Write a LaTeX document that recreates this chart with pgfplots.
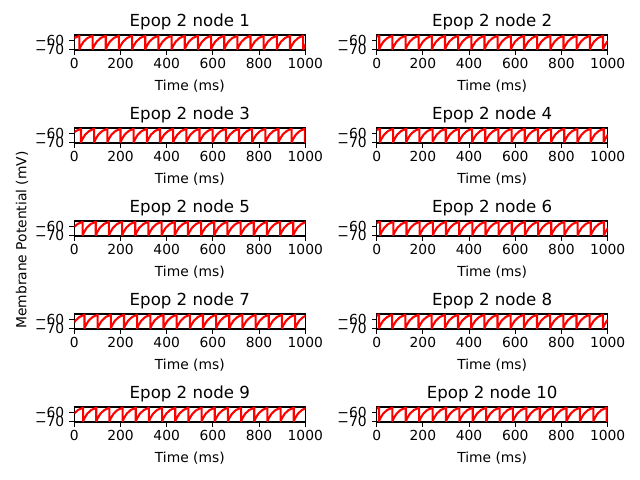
\documentclass[border=0pt]{standalone}
\usepackage{fontspec}
\setmainfont{DejaVu Sans}
\usepackage{pgfplots}
\pgfplotsset{compat=1.18}
\pgfplotsset{
 ep/.style={
  width=166.3bp, height=10.8bp, scale only axis, anchor=south west,
  xmin=0, xmax=1000, ymin=-70.75, ymax=-54.25,
  xtick={0,200,400,600,800,1000}, xticklabels={0,200,400,600,800,1000},
  ytick={-70,-60}, yticklabels={−70,−60},
  minor tick num=0,
  tick align=outside, tick pos=left, major tick length=3.5bp,
  every tick/.style={black, line width=0.8bp},
  axis line style={line width=0.8bp},
  ticklabel style={font=\fontsize{10}{12}\selectfont, inner sep=0pt},
  xticklabel style={anchor=base, yshift=-9.5bp},
  yticklabel style={anchor=east, xshift=-3.5bp},
  title style={font=\fontsize{12}{14}\selectfont, at={(axis description cs:0.5,1)}, anchor=base, inner sep=0pt},
  xlabel={Time (ms)},
  xlabel style={font=\fontsize{10}{12}\selectfont, at={(axis description cs:0.5,0)}, anchor=base, yshift=-29bp, inner sep=0pt},
 },
 tr/.style={red, line width=1.5bp, line join=round, mark=none},
}
\begin{document}
\begin{tikzpicture}
\path[use as bounding box, fill=white] (0,0) rectangle (460.8bp,345.6bp);
\node[rotate=90, font=\fontsize{10}{12}\selectfont] at (15.8bp,172.8bp) {Membrane Potential (mV)};

% node 1
\begin{axis}[ep, at={(53.5bp,309.6bp)}, title={Epop 2 node 1}]
\addplot[tr] coordinates {(0,-57.6)
(22,-55)(22,-70)(28,-66.6)(40,-61.6)(57,-57.6)
(79,-55)(79,-70)(85,-66.6)(97,-61.6)(114,-57.6)
(136,-55)(136,-70)(142,-66.6)(154,-61.6)(171,-57.6)
(193,-55)(193,-70)(199,-66.6)(211,-61.6)(228,-57.6)
(250,-55)(250,-70)(256,-66.6)(268,-61.6)(285,-57.6)
(307,-55)(307,-70)(313,-66.6)(325,-61.6)(342,-57.6)
(364,-55)(364,-70)(370,-66.6)(382,-61.6)(399,-57.6)
(421,-55)(421,-70)(427,-66.6)(439,-61.6)(456,-57.6)
(478,-55)(478,-70)(484,-66.6)(496,-61.6)(513,-57.6)
(535,-55)(535,-70)(541,-66.6)(553,-61.6)(570,-57.6)
(592,-55)(592,-70)(598,-66.6)(610,-61.6)(627,-57.6)
(649,-55)(649,-70)(655,-66.6)(667,-61.6)(684,-57.6)
(706,-55)(706,-70)(712,-66.6)(724,-61.6)(741,-57.6)
(763,-55)(763,-70)(769,-66.6)(781,-61.6)(798,-57.6)
(820,-55)(820,-70)(826,-66.6)(838,-61.6)(855,-57.6)
(877,-55)(877,-70)(883,-66.6)(895,-61.6)(912,-57.6)
(934,-55)(934,-70)(940,-66.6)(952,-61.6)(969,-57.6)
(991,-55)(991,-70)(997,-66.6)(1009,-61.6)};
\end{axis}

% node 2
\begin{axis}[ep, at={(271.2bp,309.6bp)}, title={Epop 2 node 2}]
\addplot[tr] coordinates {(0,-56.0)
(11,-55)(11,-70)(17,-66.6)(29,-61.6)(46,-57.6)
(68,-55)(68,-70)(74,-66.6)(86,-61.6)(103,-57.6)
(125,-55)(125,-70)(131,-66.6)(143,-61.6)(160,-57.6)
(182,-55)(182,-70)(188,-66.6)(200,-61.6)(217,-57.6)
(239,-55)(239,-70)(245,-66.6)(257,-61.6)(274,-57.6)
(296,-55)(296,-70)(302,-66.6)(314,-61.6)(331,-57.6)
(353,-55)(353,-70)(359,-66.6)(371,-61.6)(388,-57.6)
(410,-55)(410,-70)(416,-66.6)(428,-61.6)(445,-57.6)
(467,-55)(467,-70)(473,-66.6)(485,-61.6)(502,-57.6)
(524,-55)(524,-70)(530,-66.6)(542,-61.6)(559,-57.6)
(581,-55)(581,-70)(587,-66.6)(599,-61.6)(616,-57.6)
(638,-55)(638,-70)(644,-66.6)(656,-61.6)(673,-57.6)
(695,-55)(695,-70)(701,-66.6)(713,-61.6)(730,-57.6)
(752,-55)(752,-70)(758,-66.6)(770,-61.6)(787,-57.6)
(809,-55)(809,-70)(815,-66.6)(827,-61.6)(844,-57.6)
(866,-55)(866,-70)(872,-66.6)(884,-61.6)(901,-57.6)
(923,-55)(923,-70)(929,-66.6)(941,-61.6)(958,-57.6)
(980,-55)(980,-70)(986,-66.6)(998,-61.6)(1015,-57.6)};
\end{axis}

% node 3
\begin{axis}[ep, at={(53.5bp,242.64bp)}, title={Epop 2 node 3}]
\addplot[tr] coordinates {(0,-58.9)(7,-57.6)
(29,-55)(29,-70)(35,-66.6)(47,-61.6)(64,-57.6)
(86,-55)(86,-70)(92,-66.6)(104,-61.6)(121,-57.6)
(143,-55)(143,-70)(149,-66.6)(161,-61.6)(178,-57.6)
(200,-55)(200,-70)(206,-66.6)(218,-61.6)(235,-57.6)
(257,-55)(257,-70)(263,-66.6)(275,-61.6)(292,-57.6)
(314,-55)(314,-70)(320,-66.6)(332,-61.6)(349,-57.6)
(371,-55)(371,-70)(377,-66.6)(389,-61.6)(406,-57.6)
(428,-55)(428,-70)(434,-66.6)(446,-61.6)(463,-57.6)
(485,-55)(485,-70)(491,-66.6)(503,-61.6)(520,-57.6)
(542,-55)(542,-70)(548,-66.6)(560,-61.6)(577,-57.6)
(599,-55)(599,-70)(605,-66.6)(617,-61.6)(634,-57.6)
(656,-55)(656,-70)(662,-66.6)(674,-61.6)(691,-57.6)
(713,-55)(713,-70)(719,-66.6)(731,-61.6)(748,-57.6)
(770,-55)(770,-70)(776,-66.6)(788,-61.6)(805,-57.6)
(827,-55)(827,-70)(833,-66.6)(845,-61.6)(862,-57.6)
(884,-55)(884,-70)(890,-66.6)(902,-61.6)(919,-57.6)
(941,-55)(941,-70)(947,-66.6)(959,-61.6)(976,-57.6)
(998,-55)(998,-70)(1004,-66.6)};
\end{axis}

% node 4
\begin{axis}[ep, at={(271.2bp,242.64bp)}, title={Epop 2 node 4}]
\addplot[tr] coordinates {(0,-56.4)
(14,-55)(14,-70)(20,-66.6)(32,-61.6)(49,-57.6)
(71,-55)(71,-70)(77,-66.6)(89,-61.6)(106,-57.6)
(128,-55)(128,-70)(134,-66.6)(146,-61.6)(163,-57.6)
(185,-55)(185,-70)(191,-66.6)(203,-61.6)(220,-57.6)
(242,-55)(242,-70)(248,-66.6)(260,-61.6)(277,-57.6)
(299,-55)(299,-70)(305,-66.6)(317,-61.6)(334,-57.6)
(356,-55)(356,-70)(362,-66.6)(374,-61.6)(391,-57.6)
(413,-55)(413,-70)(419,-66.6)(431,-61.6)(448,-57.6)
(470,-55)(470,-70)(476,-66.6)(488,-61.6)(505,-57.6)
(527,-55)(527,-70)(533,-66.6)(545,-61.6)(562,-57.6)
(584,-55)(584,-70)(590,-66.6)(602,-61.6)(619,-57.6)
(641,-55)(641,-70)(647,-66.6)(659,-61.6)(676,-57.6)
(698,-55)(698,-70)(704,-66.6)(716,-61.6)(733,-57.6)
(755,-55)(755,-70)(761,-66.6)(773,-61.6)(790,-57.6)
(812,-55)(812,-70)(818,-66.6)(830,-61.6)(847,-57.6)
(869,-55)(869,-70)(875,-66.6)(887,-61.6)(904,-57.6)
(926,-55)(926,-70)(932,-66.6)(944,-61.6)(961,-57.6)
(983,-55)(983,-70)(989,-66.6)(1001,-61.6)};
\end{axis}

% node 5
\begin{axis}[ep, at={(53.5bp,175.68bp)}, title={Epop 2 node 5}]
\addplot[tr] coordinates {(0,-60.7)(14,-57.6)
(36,-55)(36,-70)(42,-66.6)(54,-61.6)(71,-57.6)
(93,-55)(93,-70)(99,-66.6)(111,-61.6)(128,-57.6)
(150,-55)(150,-70)(156,-66.6)(168,-61.6)(185,-57.6)
(207,-55)(207,-70)(213,-66.6)(225,-61.6)(242,-57.6)
(264,-55)(264,-70)(270,-66.6)(282,-61.6)(299,-57.6)
(321,-55)(321,-70)(327,-66.6)(339,-61.6)(356,-57.6)
(378,-55)(378,-70)(384,-66.6)(396,-61.6)(413,-57.6)
(435,-55)(435,-70)(441,-66.6)(453,-61.6)(470,-57.6)
(492,-55)(492,-70)(498,-66.6)(510,-61.6)(527,-57.6)
(549,-55)(549,-70)(555,-66.6)(567,-61.6)(584,-57.6)
(606,-55)(606,-70)(612,-66.6)(624,-61.6)(641,-57.6)
(663,-55)(663,-70)(669,-66.6)(681,-61.6)(698,-57.6)
(720,-55)(720,-70)(726,-66.6)(738,-61.6)(755,-57.6)
(777,-55)(777,-70)(783,-66.6)(795,-61.6)(812,-57.6)
(834,-55)(834,-70)(840,-66.6)(852,-61.6)(869,-57.6)
(891,-55)(891,-70)(897,-66.6)(909,-61.6)(926,-57.6)
(948,-55)(948,-70)(954,-66.6)(966,-61.6)(983,-57.6)
(1005,-55)};
\end{axis}

% node 6
\begin{axis}[ep, at={(271.2bp,175.68bp)}, title={Epop 2 node 6}]
\addplot[tr] coordinates {(0,-56.5)
(15,-55)(15,-70)(21,-66.6)(33,-61.6)(50,-57.6)
(72,-55)(72,-70)(78,-66.6)(90,-61.6)(107,-57.6)
(129,-55)(129,-70)(135,-66.6)(147,-61.6)(164,-57.6)
(186,-55)(186,-70)(192,-66.6)(204,-61.6)(221,-57.6)
(243,-55)(243,-70)(249,-66.6)(261,-61.6)(278,-57.6)
(300,-55)(300,-70)(306,-66.6)(318,-61.6)(335,-57.6)
(357,-55)(357,-70)(363,-66.6)(375,-61.6)(392,-57.6)
(414,-55)(414,-70)(420,-66.6)(432,-61.6)(449,-57.6)
(471,-55)(471,-70)(477,-66.6)(489,-61.6)(506,-57.6)
(528,-55)(528,-70)(534,-66.6)(546,-61.6)(563,-57.6)
(585,-55)(585,-70)(591,-66.6)(603,-61.6)(620,-57.6)
(642,-55)(642,-70)(648,-66.6)(660,-61.6)(677,-57.6)
(699,-55)(699,-70)(705,-66.6)(717,-61.6)(734,-57.6)
(756,-55)(756,-70)(762,-66.6)(774,-61.6)(791,-57.6)
(813,-55)(813,-70)(819,-66.6)(831,-61.6)(848,-57.6)
(870,-55)(870,-70)(876,-66.6)(888,-61.6)(905,-57.6)
(927,-55)(927,-70)(933,-66.6)(945,-61.6)(962,-57.6)
(984,-55)(984,-70)(990,-66.6)(1002,-61.6)};
\end{axis}

% node 7
\begin{axis}[ep, at={(53.5bp,108.72bp)}, title={Epop 2 node 7}]
\addplot[tr] coordinates {(0,-63.4)(5,-61.6)(22,-57.6)
(44,-55)(44,-70)(50,-66.6)(62,-61.6)(79,-57.6)
(101,-55)(101,-70)(107,-66.6)(119,-61.6)(136,-57.6)
(158,-55)(158,-70)(164,-66.6)(176,-61.6)(193,-57.6)
(215,-55)(215,-70)(221,-66.6)(233,-61.6)(250,-57.6)
(272,-55)(272,-70)(278,-66.6)(290,-61.6)(307,-57.6)
(329,-55)(329,-70)(335,-66.6)(347,-61.6)(364,-57.6)
(386,-55)(386,-70)(392,-66.6)(404,-61.6)(421,-57.6)
(443,-55)(443,-70)(449,-66.6)(461,-61.6)(478,-57.6)
(500,-55)(500,-70)(506,-66.6)(518,-61.6)(535,-57.6)
(557,-55)(557,-70)(563,-66.6)(575,-61.6)(592,-57.6)
(614,-55)(614,-70)(620,-66.6)(632,-61.6)(649,-57.6)
(671,-55)(671,-70)(677,-66.6)(689,-61.6)(706,-57.6)
(728,-55)(728,-70)(734,-66.6)(746,-61.6)(763,-57.6)
(785,-55)(785,-70)(791,-66.6)(803,-61.6)(820,-57.6)
(842,-55)(842,-70)(848,-66.6)(860,-61.6)(877,-57.6)
(899,-55)(899,-70)(905,-66.6)(917,-61.6)(934,-57.6)
(956,-55)(956,-70)(962,-66.6)(974,-61.6)(991,-57.6)
(1013,-55)};
\end{axis}

% node 8
\begin{axis}[ep, at={(271.2bp,108.72bp)}, title={Epop 2 node 8}]
\addplot[tr] coordinates {(0,-55.9)
(10,-55)(10,-70)(16,-66.6)(28,-61.6)(45,-57.6)
(67,-55)(67,-70)(73,-66.6)(85,-61.6)(102,-57.6)
(124,-55)(124,-70)(130,-66.6)(142,-61.6)(159,-57.6)
(181,-55)(181,-70)(187,-66.6)(199,-61.6)(216,-57.6)
(238,-55)(238,-70)(244,-66.6)(256,-61.6)(273,-57.6)
(295,-55)(295,-70)(301,-66.6)(313,-61.6)(330,-57.6)
(352,-55)(352,-70)(358,-66.6)(370,-61.6)(387,-57.6)
(409,-55)(409,-70)(415,-66.6)(427,-61.6)(444,-57.6)
(466,-55)(466,-70)(472,-66.6)(484,-61.6)(501,-57.6)
(523,-55)(523,-70)(529,-66.6)(541,-61.6)(558,-57.6)
(580,-55)(580,-70)(586,-66.6)(598,-61.6)(615,-57.6)
(637,-55)(637,-70)(643,-66.6)(655,-61.6)(672,-57.6)
(694,-55)(694,-70)(700,-66.6)(712,-61.6)(729,-57.6)
(751,-55)(751,-70)(757,-66.6)(769,-61.6)(786,-57.6)
(808,-55)(808,-70)(814,-66.6)(826,-61.6)(843,-57.6)
(865,-55)(865,-70)(871,-66.6)(883,-61.6)(900,-57.6)
(922,-55)(922,-70)(928,-66.6)(940,-61.6)(957,-57.6)
(979,-55)(979,-70)(985,-66.6)(997,-61.6)(1014,-57.6)};
\end{axis}

% node 9
\begin{axis}[ep, at={(53.5bp,41.76bp)}, title={Epop 2 node 9}]
\addplot[tr] coordinates {(0,-61.3)(16,-57.6)
(38,-55)(38,-70)(44,-66.6)(56,-61.6)(73,-57.6)
(95,-55)(95,-70)(101,-66.6)(113,-61.6)(130,-57.6)
(152,-55)(152,-70)(158,-66.6)(170,-61.6)(187,-57.6)
(209,-55)(209,-70)(215,-66.6)(227,-61.6)(244,-57.6)
(266,-55)(266,-70)(272,-66.6)(284,-61.6)(301,-57.6)
(323,-55)(323,-70)(329,-66.6)(341,-61.6)(358,-57.6)
(380,-55)(380,-70)(386,-66.6)(398,-61.6)(415,-57.6)
(437,-55)(437,-70)(443,-66.6)(455,-61.6)(472,-57.6)
(494,-55)(494,-70)(500,-66.6)(512,-61.6)(529,-57.6)
(551,-55)(551,-70)(557,-66.6)(569,-61.6)(586,-57.6)
(608,-55)(608,-70)(614,-66.6)(626,-61.6)(643,-57.6)
(665,-55)(665,-70)(671,-66.6)(683,-61.6)(700,-57.6)
(722,-55)(722,-70)(728,-66.6)(740,-61.6)(757,-57.6)
(779,-55)(779,-70)(785,-66.6)(797,-61.6)(814,-57.6)
(836,-55)(836,-70)(842,-66.6)(854,-61.6)(871,-57.6)
(893,-55)(893,-70)(899,-66.6)(911,-61.6)(928,-57.6)
(950,-55)(950,-70)(956,-66.6)(968,-61.6)(985,-57.6)
(1007,-55)};
\end{axis}

% node 10
\begin{axis}[ep, at={(271.2bp,41.76bp)}, title={Epop 2 node 10}]
\addplot[tr] coordinates {(0,-55.8)
(10,-55)(10,-70)(16,-66.6)(28,-61.6)(45,-57.6)
(68,-55)(68,-70)(74,-66.6)(86,-61.6)(103,-57.6)
(126,-55)(126,-70)(132,-66.6)(144,-61.6)(161,-57.6)
(184,-55)(184,-70)(190,-66.6)(202,-61.6)(219,-57.6)
(242,-55)(242,-70)(248,-66.6)(260,-61.6)(277,-57.6)
(300,-55)(300,-70)(306,-66.6)(318,-61.6)(335,-57.6)
(358,-55)(358,-70)(364,-66.6)(376,-61.6)(393,-57.6)
(416,-55)(416,-70)(422,-66.6)(434,-61.6)(451,-57.6)
(474,-55)(474,-70)(480,-66.6)(492,-61.6)(509,-57.6)
(532,-55)(532,-70)(538,-66.6)(550,-61.6)(567,-57.6)
(590,-55)(590,-70)(596,-66.6)(608,-61.6)(625,-57.6)
(648,-55)(648,-70)(654,-66.6)(666,-61.6)(683,-57.6)
(706,-55)(706,-70)(712,-66.6)(724,-61.6)(741,-57.6)
(764,-55)(764,-70)(770,-66.6)(782,-61.6)(799,-57.6)
(822,-55)(822,-70)(828,-66.6)(840,-61.6)(857,-57.6)
(880,-55)(880,-70)(886,-66.6)(898,-61.6)(915,-57.6)
(938,-55)(938,-70)(944,-66.6)(956,-61.6)(973,-57.6)
(996,-55)(996,-70)(1002,-66.6)};
\end{axis}
\end{tikzpicture}
\end{document}
